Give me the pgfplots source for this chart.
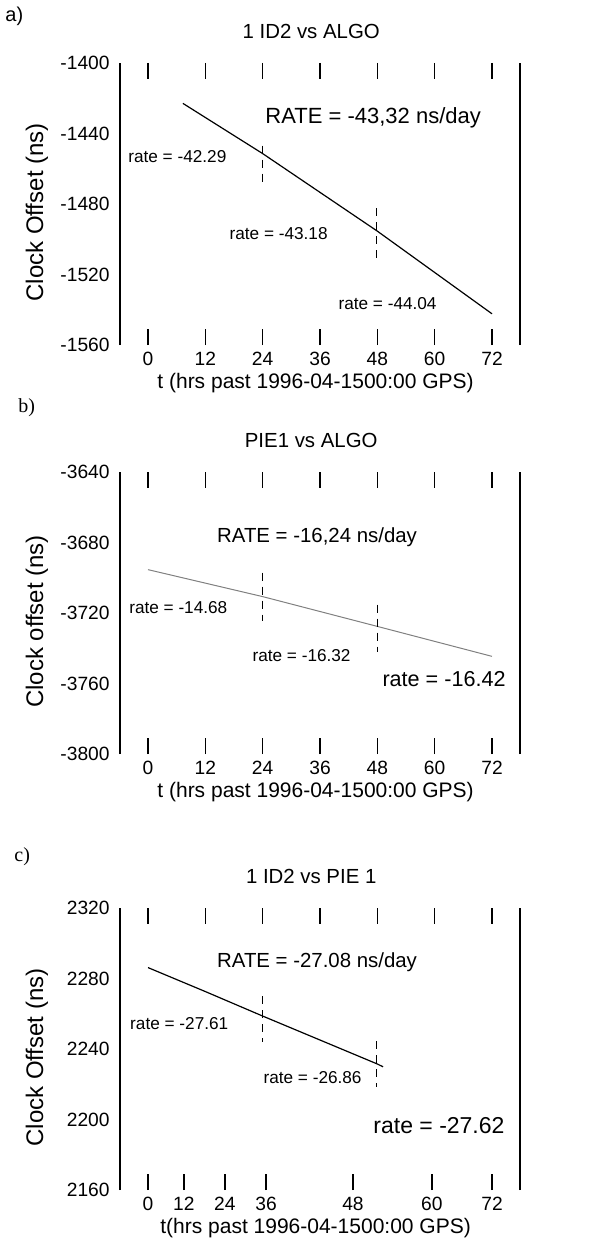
\documentclass[border=0pt]{standalone}
\usepackage{fontspec}
\setmainfont{Liberation Sans}
\newfontfamily\seriffont{Liberation Serif}
\usepackage{pgfplots}
\pgfplotsset{compat=1.18}
\pgfplotsset{
  myax/.style={
    scale only axis, width=200pt, height=141pt,
    xmin=-5.86, xmax=77.86,
    separate axis lines,
    x axis line style={draw=none},
    y axis line style={line width=1.1pt},
    xtick={0,12,...,72},
    tick align=inside,
    xtick style={line width=0.8pt, black},
    major tick length=8pt,
    ytick style={draw=none},
    /pgf/number format/assume math mode=true,
    /pgf/number format/1000 sep={},
    tick label style={font=\fontsize{9.6}{10}\selectfont},
    yticklabel style={inner sep=0pt, xshift=-5pt},
    xticklabel style={inner sep=0pt, yshift=-3.5pt},
    xlabel style={at={(axis description cs:0.489,0)}, anchor=center, yshift=-19pt, font=\fontsize{10.5}{12}\selectfont},
    ylabel style={at={(axis description cs:-0.2075,0.47)}, anchor=center, font=\fontsize{12}{14}\selectfont},
    title style={at={(axis description cs:0.478,1)}, anchor=center, yshift=10pt, font=\fontsize{10.2}{12}\selectfont},
    clip=false,
  },
}
\tikzset{
  dsh/.style={black, line width=0.6pt, dash pattern=on 4pt off 3pt},
  ann/.style={anchor=west, inner sep=0pt},
}
\newcommand{\rs}{\fontsize{8.6}{10}\selectfont}
\newcommand{\rl}{\fontsize{10.2}{12}\selectfont}
\newcommand{\rb}{\fontsize{11}{13}\selectfont}
\begin{document}
\begin{tikzpicture}
\useasboundingbox (0,0) rectangle (305pt,-623pt);
\node[anchor=west, inner sep=0pt, font=\fontsize{10}{12}\selectfont] at (2.5pt,-8pt) {a)};
\node[anchor=west, inner sep=0pt, font=\seriffont\fontsize{10}{12}\selectfont] at (9pt,-204pt) {b)};
\node[anchor=west, inner sep=0pt, font=\seriffont\fontsize{10}{12}\selectfont] at (7pt,-428.5pt) {c)};

% ---------- a ----------
\begin{axis}[myax, at={(60pt,-31.5pt)}, anchor=north west,
  ymin=-1560, ymax=-1400, ytick={-1560,-1520,...,-1400},
  title={1 ID2 vs ALGO},
  xlabel={t (hrs past 1996-04-1500:00 GPS)},
  ylabel={Clock Offset (ns)}]
\addplot[black, line width=0.6pt] coordinates {(7.3,-1422.9) (24,-1451.4) (48,-1495.4) (72,-1542.3)};
\addplot[dsh] coordinates {(24,-1446.9) (24,-1468)};
\addplot[dsh] coordinates {(47.8,-1482.3) (47.8,-1510.9)};
\node[ann, font=\rb] at (axis cs:24.5,-1431) {RATE = -43,32 ns/day};
\node[ann, font=\rs] at (axis cs:-4.2,-1453) {rate = -42.29};
\node[ann, font=\rs] at (axis cs:17,-1497) {rate = -43.18};
\node[ann, font=\rs] at (axis cs:39.8,-1536.6) {rate = -44.04};
\end{axis}

% ---------- b ----------
\begin{axis}[myax, at={(60pt,-236pt)}, anchor=north west,
  ymin=-3800, ymax=-3640, ytick={-3800,-3760,...,-3640},
  title={PIE1 vs ALGO},
  xlabel={t (hrs past 1996-04-1500:00 GPS)},
  ylabel={Clock offset (ns)}]
\addplot[gray, line width=0.5pt] coordinates {(0,-3695.4) (24,-3710.7) (48,-3727.6) (72,-3744.6)};
\addplot[dsh] coordinates {(24,-3697.1) (24,-3724.8)};
\addplot[dsh] coordinates {(48,-3715.2) (48,-3742.4)};
\node[ann, font=\rl] at (axis cs:14.4,-3676.8) {RATE = -16,24 ns/day};
\node[ann, font=\rs] at (axis cs:-4.0,-3716.9) {rate = -14.68};
\node[ann, font=\rs] at (axis cs:21.8,-3744) {rate = -16.32};
\node[ann, font=\fontsize{10.8}{13}\selectfont] at (axis cs:49,-3757.6) {rate = -16.42};
\end{axis}

% ---------- c ----------
\begin{axis}[myax, at={(60pt,-454pt)}, anchor=north west,
  ymin=2160, ymax=2320, ytick={2160,2200,...,2320},
  xtick={0,7.5,16.1,24.7,42.9,59.4,72},
  xticklabels={0,12,24,36,48,60,72},
  xtick pos=bottom,
  title={1 ID2 vs PIE 1},
  xlabel={t(hrs past 1996-04-1500:00 GPS)},
  ylabel={Clock Offset (ns)}]
\addplot[black, line width=0.6pt] coordinates {(0,2286.2) (12,2272.6) (24,2258.7) (48,2231.5) (49.2,2229.9)};
\addplot[dsh] coordinates {(24,2269.9) (24,2243.9)};
\addplot[dsh] coordinates {(47.8,2244.5) (47.8,2218.6)};
\node[ann, font=\rl] at (axis cs:14.4,2289) {RATE = -27.08 ns/day};
\node[ann, font=\rs] at (axis cs:-3.8,2254.6) {rate = -27.61};
\node[ann, font=\rs] at (axis cs:24.1,2223.7) {rate = -26.86};
\node[ann, font=\fontsize{11.5}{13}\selectfont] at (axis cs:47.1,2196.6) {rate = -27.62};
\end{axis}
\begin{axis}[at={(60pt,-454pt)}, anchor=north west,
  scale only axis, width=200pt, height=141pt,
  xmin=-5.86, xmax=77.86, ymin=2160, ymax=2320,
  hide y axis, separate axis lines, x axis line style={draw=none},
  xtick={0,12,...,72}, xticklabels={}, xtick pos=top,
  tick align=inside, major tick length=8pt,
  xtick style={line width=0.8pt, black}]
\end{axis}
\end{tikzpicture}
\end{document}
